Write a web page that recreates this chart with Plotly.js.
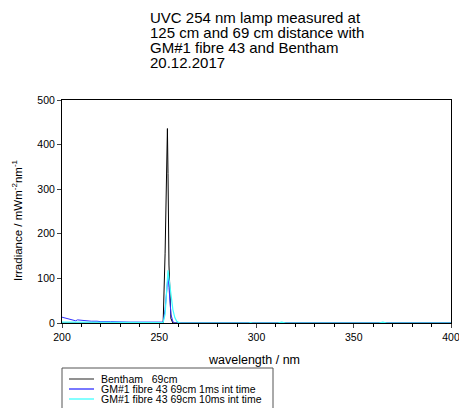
<!DOCTYPE html>
<html><head><meta charset="utf-8">
<script src="https://cdn.plot.ly/plotly-3.0.1.min.js"></script>
<style>html,body{margin:0;padding:0;background:#fff}#c{width:459px;height:408px}</style>
</head><body><div id="c"></div>
<script>
const seriesNames = ["Bentham   69cm", "GM#1 fibre 43 69cm 1ms int time", "GM#1 fibre 43 69cm 10ms int time"];
const seriesColors = ["#000000", "#3030ff", "#40ffff"];
const titleLines = ["UVC 254 nm lamp measured at", "125 cm and 69 cm distance with", "GM#1 fibre 43 and Bentham", "20.12.2017"];
const benthamX = [200, 250, 252, 253, 253.5, 254, 254.2, 254.5, 255, 256, 257, 300, 350, 400];
const benthamY = [0, 0, 0, 155, 265, 380, 436, 335, 130, 10, 0, 0, 0, 0];
const gm1msX = [200, 202, 205, 207, 208, 210, 213, 215, 218, 220, 225, 230, 235, 240, 245, 250, 252, 253, 254, 254.5, 255, 256, 257, 258, 300, 350, 400];
const gm1msY = [13, 11, 7, 5, 7, 6, 5, 4, 4, 3, 3, 2, 2, 2, 2, 2, 2, 30, 90, 105, 80, 20, 3, 0, 0, 0, 0];
const gm10msX = [200, 210, 220, 250, 252, 253, 254, 254.5, 255, 256, 257, 258, 259, 260, 261, 296, 297, 298, 311, 313, 315, 363, 365, 367, 400];
const gm10msY = [2, 2, 1, 1, 1, 20, 85, 118, 100, 60, 30, 12, 4, 1, 0, 0, 1, 0, 0, 2, 0, 0, 2, 0, 0];
const xTicks = [200, 250, 300, 350, 400];
const yTicks = [0, 100, 200, 300, 400, 500];

const font = {family: 'Liberation Sans, Arial, sans-serif', color: '#000'};
const f = s => Object.assign({size: s}, font);

const traces = [
  {x: benthamX, y: benthamY, name: seriesNames[0], mode: 'lines', line: {color: seriesColors[0], width: 1}},
  {x: gm1msX, y: gm1msY, name: seriesNames[1], mode: 'lines', line: {color: seriesColors[1], width: 1}},
  {x: gm10msX, y: gm10msY, name: seriesNames[2], mode: 'lines', line: {color: seriesColors[2], width: 1.2}}
];

// layout helpers: pixel -> paper (plot area x 62..451, y 100..323)
const px = p => (p - 62) / 389;
const py = p => (323 - p) / 223;

const annotations = [];
const titleY = [17.5, 32.5, 47.5, 62.5];
titleLines.forEach((t, i) => annotations.push({text: t, xref: 'paper', yref: 'paper', x: px(148), y: py(titleY[i]),
  xanchor: 'left', yanchor: 'middle', showarrow: false, font: f(15)}));
annotations.push({text: 'wavelength / nm', xref: 'paper', yref: 'paper', x: px(253.5), y: py(360),
  xanchor: 'center', yanchor: 'middle', showarrow: false, font: f(12.5)});
annotations.push({text: 'Irradiance / mWm<sup>-2</sup>nm<sup>-1</sup>', xref: 'paper', yref: 'paper', x: px(17), y: py(220),
  xanchor: 'center', yanchor: 'middle', textangle: -90, showarrow: false, font: f(11.5)});

const shapes = [{type: 'rect', xref: 'paper', yref: 'paper', x0: px(62), x1: px(273), y0: py(412), y1: py(368),
  line: {color: '#555', width: 1}, fillcolor: 'rgba(0,0,0,0)'}];
const legY = [379, 389, 399];
seriesNames.forEach((n, i) => {
  shapes.push({type: 'line', xref: 'paper', yref: 'paper', x0: px(69), x1: px(94), y0: py(legY[i]), y1: py(legY[i]),
    line: {color: i === 0 ? '#555' : seriesColors[i], width: 1.3}});
  annotations.push({text: n, xref: 'paper', yref: 'paper', x: px(99), y: py(legY[i]), xanchor: 'left', yanchor: 'middle',
    showarrow: false, font: f(10.5)});
});

const layout = {
  width: 459, height: 408,
  margin: {l: 62, r: 8, t: 100, b: 85},
  paper_bgcolor: '#fff', plot_bgcolor: '#fff',
  font: f(10),
  showlegend: false,
  xaxis: {range: [200, 400], tickvals: xTicks, ticktext: xTicks.map(String), ticks: 'outside', ticklen: 4,
    showline: true, linecolor: '#000', linewidth: 1, mirror: true, showgrid: false, zeroline: false,
    ticklabeloverflow: 'allow', automargin: false,
    minor: {dtick: 10, ticks: 'outside', ticklen: 3, tickcolor: '#000', showgrid: false},
    tickfont: f(10.5)},
  yaxis: {range: [0, 500], tickvals: yTicks, ticks: 'outside', ticklen: 4, automargin: false,
    showline: true, linecolor: '#000', linewidth: 1, mirror: true, showgrid: false, zeroline: false,
    tickfont: f(10.5)},
  annotations: annotations,
  shapes: shapes
};
Plotly.newPlot('c', traces, layout, {displayModeBar: false, staticPlot: true});
</script></body></html>
